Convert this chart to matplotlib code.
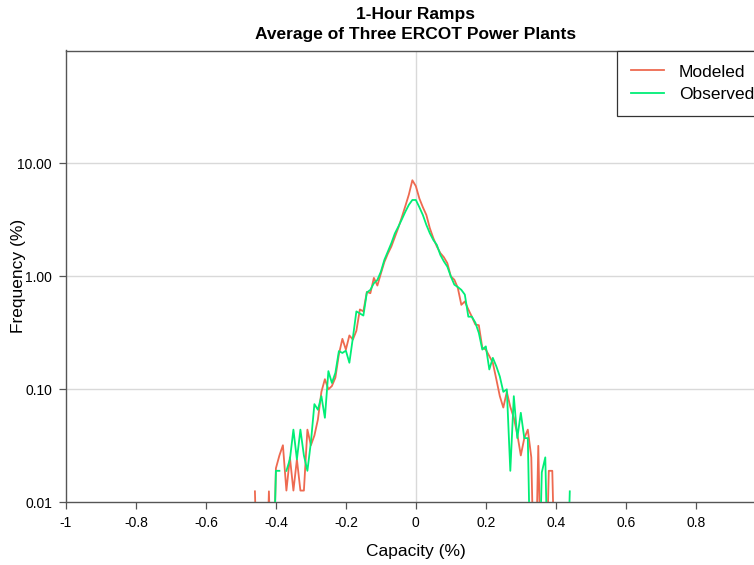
import matplotlib
matplotlib.use('Agg')
import matplotlib.pyplot as plt
import numpy as np

plt.rcParams['font.family'] = ['Liberation Sans', 'DejaVu Sans']

nan = np.nan

# bin centres of the 1-hour ramp (fraction of capacity), 0.01 wide
capacity = np.round(np.arange(-0.46, 0.445, 0.01), 2)

# frequency (%) per bin (nan = empty bin)
modeled = [
    0.0125, 0.001, 0.001, 0.001, 0.0125, 0.001, 0.020, 0.026, 0.032, 0.0127,
    0.025, 0.0127, 0.024, 0.0127, 0.0127, 0.044, 0.032, 0.039, 0.054, 0.095,
    0.123, 0.100, 0.107, 0.127, 0.204, 0.280, 0.225, 0.300, 0.276, 0.330,
    0.51, 0.49, 0.73, 0.71, 0.97, 0.83, 1.06, 1.34, 1.59, 1.84,
    2.23, 2.70, 3.35, 4.20, 5.30, 7.10, 6.30, 4.90, 4.10, 3.50,
    2.67, 2.18, 1.84, 1.61, 1.48, 1.31, 1.00, 0.935, 0.79, 0.56,
    0.60, 0.51, 0.44, 0.375, 0.37, 0.233, 0.225, 0.197, 0.172, 0.123,
    0.087, 0.069, 0.095, 0.070, 0.056, 0.040, 0.026, 0.037, 0.044, 0.025,
    0.001, 0.0316, 0.001, 0.001, 0.019, 0.019, 0.001, 0.001, 0.001, 0.001,
    0.001,
]

observed = [
    nan, nan, nan, nan, nan, 0.001, 0.019, 0.019, nan, 0.019,
    0.024, 0.044, 0.024, 0.044, 0.026, 0.019, 0.034, 0.074, 0.066, 0.087,
    0.056, 0.145, 0.114, 0.140, 0.218, 0.210, 0.220, 0.172, 0.286, 0.49,
    0.47, 0.45, 0.72, 0.76, 0.87, 0.93, 1.10, 1.40, 1.66, 1.97,
    2.40, 2.76, 3.20, 3.74, 4.30, 4.75, 4.75, 4.10, 3.50, 2.86,
    2.41, 2.10, 1.90, 1.55, 1.36, 1.22, 1.00, 0.845, 0.805, 0.76,
    0.69, 0.44, 0.44, 0.39, 0.316, 0.225, 0.24, 0.15, 0.19, 0.16,
    0.13, 0.095, 0.10, 0.019, 0.087, 0.037, 0.062, 0.037, 0.037, 0.001,
    nan, 0.001, 0.0184, 0.025, 0.001, nan, nan, nan, nan, 0.001,
    0.0125,
]

xticks = [-1, -0.8, -0.6, -0.4, -0.2, 0, 0.2, 0.4, 0.6, 0.8]
xticklabels = ['-1', '-0.8', '-0.6', '-0.4', '-0.2', '0', '0.2', '0.4', '0.6', '0.8']
yticks = [0.01, 0.1, 1, 10]
yticklabels = ['0.01', '0.10', '1.00', '10.00']

fig = plt.figure(figsize=(7.54, 5.65), dpi=100)
# axes runs a little past the right edge of the figure, like the original
ax = fig.add_axes([66 / 754, 62.7 / 565, 699.7 / 754, 451.8 / 565])

spine_col = '#555555'
grid_col = '#d9d9d9'

for yv in yticks[1:]:
    ax.axhline(yv, color=grid_col, lw=1.0, zorder=0)
ax.axvline(0, color=grid_col, lw=1.0, zorder=0)

ax.plot(capacity, modeled, color='#ee6a50', lw=1.3, label='Modeled', zorder=2)
ax.plot(capacity, observed, color='#00ee76', lw=1.3, label='Observed', zorder=3)

ax.set_yscale('log')
ax.set_ylim(0.01, 100)
ax.set_xlim(-1, 1)
ax.set_yticks(yticks)
ax.set_yticklabels(yticklabels)
ax.yaxis.set_minor_locator(matplotlib.ticker.NullLocator())
ax.set_xticks(xticks)
ax.set_xticklabels(xticklabels)

for s in ax.spines.values():
    s.set_color(spine_col)
    s.set_linewidth(1.0)
ax.tick_params(direction='out', length=5, width=0.9, color=spine_col,
               labelsize=10, pad=5)

ax.set_xlabel('Capacity (%)', fontsize=12.5, labelpad=10)
ax.set_ylabel('Frequency (%)', fontsize=12.5)
ax.yaxis.set_label_coords(-0.057, 0.5)
ax.set_title('1-Hour Ramps\nAverage of Three ERCOT Power Plants',
             fontsize=12.5, fontweight='bold', pad=8, linespacing=1.45)

leg = ax.legend(loc='upper left', bbox_to_anchor=(617 / 754, 514.5 / 565),
                bbox_transform=fig.transFigure, borderaxespad=0,
                fontsize=12.5, fancybox=False, framealpha=1,
                handlelength=1.9, handletextpad=0.85, borderpad=0.8,
                labelspacing=0.4)
leg.get_frame().set_edgecolor('#333333')
leg.get_frame().set_linewidth(0.9)

plt.savefig('out.png', dpi=100)
